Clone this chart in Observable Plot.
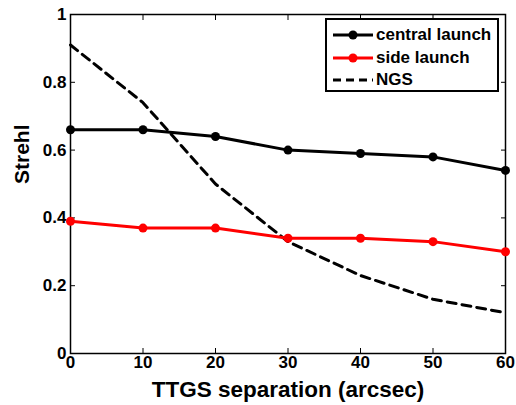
<!DOCTYPE html>
<html><head><meta charset="utf-8">
<script src="https://cdn.jsdelivr.net/npm/d3@7"></script>
<script src="https://cdn.jsdelivr.net/npm/@observablehq/plot@0.6"></script>
<style>
body{margin:0;background:#fff;}
#wrap{position:relative;width:516px;height:405px;font-family:"Liberation Sans",Arial,sans-serif;}
#legend{position:absolute;left:325px;top:18px;width:174px;height:74px;border:2px solid #000;background:#fff;box-sizing:border-box;font-weight:bold;font-size:17px;}
#legend .row{position:absolute;left:0;height:22px;display:flex;align-items:center;}
#legend svg{margin:0 3px 0 6px;}
</style></head>
<body><div id="wrap"></div>
<script>
const separation = [0, 10, 20, 30, 40, 50, 60];
const central = [0.66, 0.66, 0.64, 0.60, 0.59, 0.58, 0.54];
const side = [0.39, 0.37, 0.37, 0.34, 0.34, 0.33, 0.30];
const ngs = [0.91, 0.74, 0.50, 0.33, 0.23, 0.16, 0.12];
const xTicks = [0, 10, 20, 30, 40, 50, 60];
const yTicks = [0, 0.2, 0.4, 0.6, 0.8, 1];
const seriesNames = ["central launch", "side launch", "NGS"];

const rows = (vals) => separation.map((x, i) => ({x, y: vals[i]}));

const chart = Plot.plot({
  width: 516, height: 405,
  marginLeft: 70, marginRight: 11, marginTop: 14, marginBottom: 52,
  style: {fontFamily: "Liberation Sans, Arial, sans-serif", fontWeight: "bold", fontSize: "16px", color: "#000", background: "#fff"},
  x: {domain: [0, 60]},
  y: {domain: [0, 1]},
  marks: [
    Plot.axisX({ticks: xTicks, tickSize: -5, tickPadding: 7, fontSize: 17, label: null, strokeWidth: 1}),
    Plot.axisX({anchor: "top", ticks: xTicks, tickSize: -5, tickFormat: () => "", label: null}),
    Plot.axisY({ticks: yTicks, tickSize: -5, tickPadding: 9, fontSize: 17, label: null, tickFormat: d => d === 0 || d === 1 ? String(d) : d.toFixed(1)}),
    Plot.axisY({anchor: "right", ticks: yTicks, tickSize: -5, tickFormat: () => "", label: null}),
    Plot.frame({stroke: "#000", strokeWidth: 1.5}),
    Plot.line(rows(ngs), {x: "x", y: "y", stroke: "#000", strokeWidth: 3, strokeDasharray: "9,6"}),
    Plot.line(rows(central), {x: "x", y: "y", stroke: "#000", strokeWidth: 3}),
    Plot.dot(rows(central), {x: "x", y: "y", fill: "#000", r: 4.5}),
    Plot.line(rows(side), {x: "x", y: "y", stroke: "#ff0000", strokeWidth: 3}),
    Plot.dot(rows(side), {x: "x", y: "y", fill: "#ff0000", r: 4.5}),
    Plot.text(["TTGS separation (arcsec)"], {frameAnchor: "bottom", dy: 43, fontSize: 22.5, fontWeight: "bold"}),
    Plot.text(["Strehl"], {frameAnchor: "left", dx: -48, rotate: -90, fontSize: 21, fontWeight: "bold"})
  ]
});
const wrap = document.getElementById("wrap");
wrap.appendChild(chart);

const legend = document.createElement("div");
legend.id = "legend";
const styles = [
  {stroke: "#000", dash: null, dot: true},
  {stroke: "#ff0000", dash: null, dot: true},
  {stroke: "#000", dash: "8,5", dot: false}
];
seriesNames.forEach((name, i) => {
  const s = styles[i];
  const row = document.createElement("div");
  row.className = "row";
  row.style.top = (4 + i * 22.5) + "px";
  row.innerHTML = `<svg width="40" height="12"><line x1="0" x2="40" y1="6" y2="6" stroke="${s.stroke}" stroke-width="3" ${s.dash ? `stroke-dasharray="${s.dash}"` : ""}/>${s.dot ? `<circle cx="20" cy="6" r="4.5" fill="${s.stroke}"/>` : ""}</svg><span>${name}</span>`;
  legend.appendChild(row);
});
wrap.appendChild(legend);
</script></body></html>
